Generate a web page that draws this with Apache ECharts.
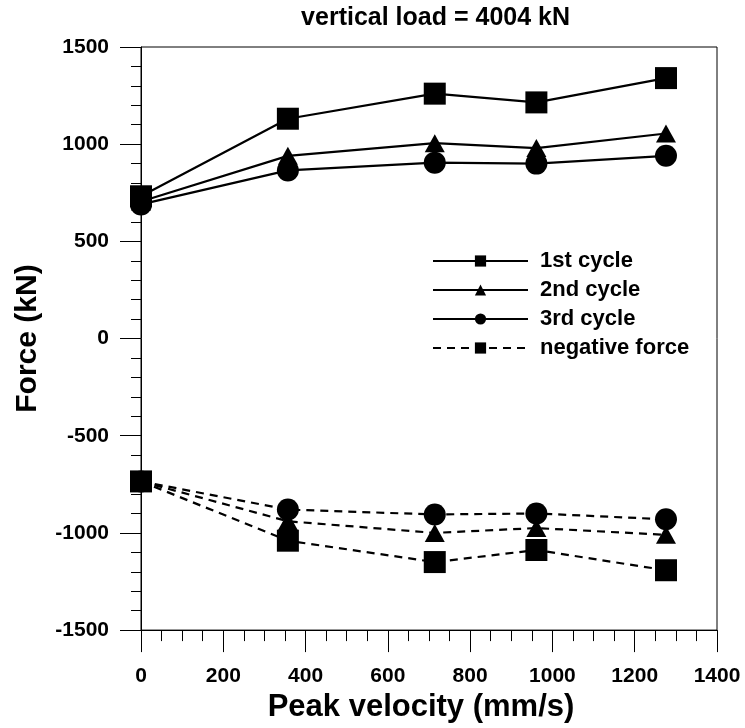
<!DOCTYPE html>
<html>
<head>
<meta charset="utf-8">
<script src="https://cdn.jsdelivr.net/npm/echarts@6/dist/echarts.min.js"></script>
<style>
html,body{margin:0;padding:0;background:#fff;}
#chart{width:745px;height:728px;}
</style>
</head>
<body>
<div id="chart"></div>
<script>
// Data
const velocity = [0, 357, 714, 961, 1276];
const pos1st = [732, 1131, 1260, 1215, 1340];
const pos2nd = [705, 940, 1005, 980, 1055];
const pos3rd = [690, 865, 905, 900, 940];
const neg1st = [-735, -1040, -1150, -1088, -1192];
const neg2nd = [-735, -940, -1000, -975, -1010];
const neg3rd = [-735, -880, -905, -900, -930];
const titleText = 'vertical load = 4004 kN';
const xName = 'Peak velocity (mm/s)';
const yName = 'Force (kN)';
const legendNames = ['1st cycle', '2nd cycle', '3rd cycle', 'negative force'];

function pairs(xs, ys) { return xs.map((x, i) => [x, ys[i]]); }

const FONT = 'Liberation Sans, Arial, sans-serif';
const chart = echarts.init(document.getElementById('chart'), null, {renderer: 'canvas'});

function mkSeries(name, ys, symbol, size, dashed) {
  return {
    name: name,
    type: 'line',
    data: pairs(velocity, ys),
    symbol: symbol,
    symbolSize: size,
    showSymbol: true,
    itemStyle: {color: '#000'},
    lineStyle: {color: '#000', width: 2.2, type: dashed ? [8, 6] : 'solid'},
    emphasis: {disabled: true},
    animation: false
  };
}

const plain = v => String(v);

const option = {
  backgroundColor: '#fff',
  animation: false,
  title: {
    text: titleText,
    right: 175,
    top: 6,
    padding: 0,
    textStyle: {fontFamily: FONT, fontWeight: 'bold', fontSize: 25, color: '#000'}
  },
  legend: {
    data: legendNames,
    orient: 'vertical',
    left: 432,
    top: 250,
    padding: 0,
    itemWidth: 95,
    itemHeight: 14,
    itemGap: 7,
    textStyle: {fontFamily: FONT, fontWeight: 'bold', fontSize: 22, color: '#000', padding: [0, 0, 0, 7]},
    selectedMode: false
  },
  grid: {
    left: 141, right: 28, top: 47, bottom: 96,
    show: true, borderColor: '#000', borderWidth: 1, backgroundColor: 'transparent'
  },
  xAxis: {
    type: 'value',
    min: 0, max: 1400, interval: 200,
    name: xName,
    nameLocation: 'middle',
    nameGap: 57,
    nameTextStyle: {fontFamily: FONT, fontWeight: 'bold', fontSize: 31, color: '#000', padding: [0, 16, 0, 0]},
    axisLine: {show: true, onZero: false, lineStyle: {color: '#000', width: 1}},
    axisTick: {show: true, inside: false, length: 22, lineStyle: {color: '#000', width: 1}},
    minorTick: {show: true, splitNumber: 4, length: 11, lineStyle: {color: '#000', width: 1}},
    splitLine: {show: false},
    axisLabel: {margin: 36, formatter: plain, fontFamily: FONT, fontWeight: 'bold', fontSize: 21, color: '#000'}
  },
  yAxis: {
    type: 'value',
    min: -1500, max: 1500, interval: 500,
    name: yName,
    nameLocation: 'middle',
    nameGap: 98,
    nameRotate: 90,
    nameTextStyle: {fontFamily: FONT, fontWeight: 'bold', fontSize: 30, color: '#000'},
    axisLine: {show: true, onZero: false, lineStyle: {color: '#000', width: 1}},
    axisTick: {show: true, inside: false, length: 21, lineStyle: {color: '#000', width: 1}},
    minorTick: {show: true, splitNumber: 5, length: 10, lineStyle: {color: '#000', width: 1}},
    splitLine: {show: false},
    axisLabel: {margin: 32, formatter: plain, fontFamily: FONT, fontWeight: 'bold', fontSize: 21, color: '#000'}
  },
  series: [
    mkSeries('1st cycle', pos1st, 'rect', 22, false),
    mkSeries('2nd cycle', pos2nd, 'triangle', [20, 18], false),
    mkSeries('3rd cycle', pos3rd, 'circle', 22, false),
    mkSeries('negative force', neg1st, 'rect', 22, true),
    mkSeries('negative force 2nd', neg2nd, 'triangle', [20, 18], true),
    mkSeries('negative force 3rd', neg3rd, 'circle', 22, true)
  ]
};
chart.setOption(option);
</script>
</body>
</html>
